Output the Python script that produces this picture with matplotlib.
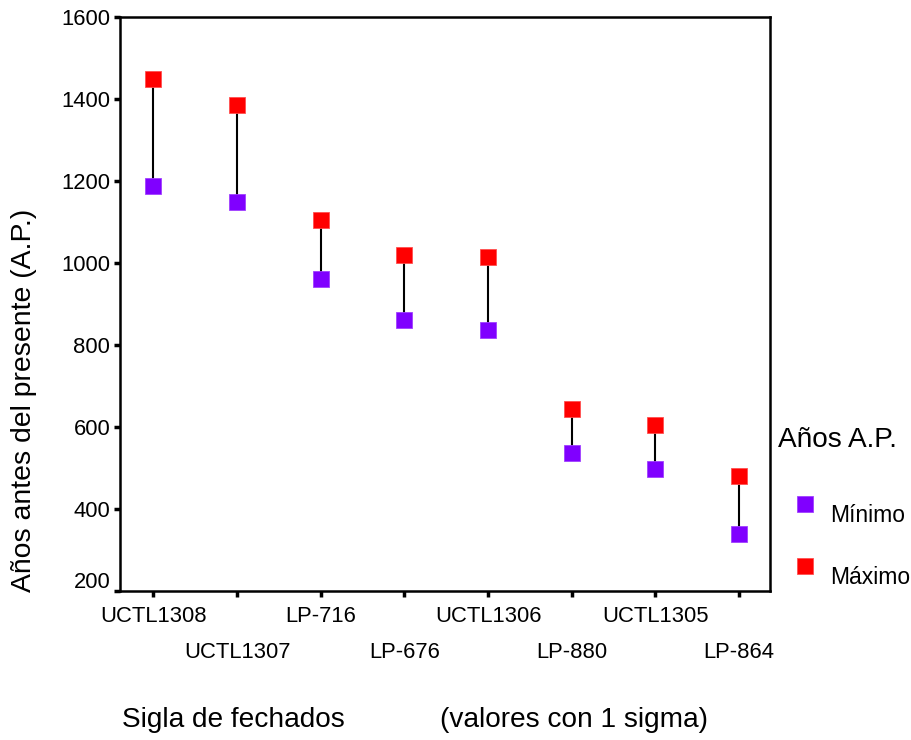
import matplotlib
matplotlib.use("Agg")
import matplotlib.pyplot as plt
import matplotlib.transforms as mtransforms
from matplotlib.lines import Line2D

plt.rcParams['font.family'] = ['Liberation Sans', 'DejaVu Sans']

categories = ["UCTL1308", "UCTL1307", "LP-716", "LP-676", "UCTL1306", "LP-880", "UCTL1305", "LP-864"]
minimo = [1188, 1149, 961, 861, 837, 537, 498, 339]
maximo = [1449, 1385, 1105, 1020, 1015, 644, 605, 480]
yticks = [200, 400, 600, 800, 1000, 1200, 1400, 1600]

purple = "#8000FF"
red = "#FF0000"

fig = plt.figure(figsize=(9.11, 7.40), dpi=100)
ax = fig.add_axes([120/911, 149/740, 650/911, 574/740])

x = list(range(len(categories)))
for xi, lo, hi in zip(x, minimo, maximo):
    ax.plot([xi, xi], [lo, hi], color="black", lw=1.5, zorder=2)
ax.plot(x, minimo, ls="none", marker="s", ms=11.5, mfc=purple, mec="#a040ff", mew=0.6, zorder=3)
ax.plot(x, maximo, ls="none", marker="s", ms=11.5, mfc=red, mec="#ff5050", mew=0.6, zorder=3)

ax.set_xlim(-0.4, 7.37)
ax.set_ylim(200, 1600)
ax.set_yticks(yticks)
ax.set_yticklabels([str(v) for v in yticks], fontsize=15.8)
# alternate rows: even categories as major ticks, odd as minor ticks with a larger pad
ax.set_xticks(x[0::2])
ax.set_xticklabels(categories[0::2], fontsize=15.8)
ax.set_xticks(x[1::2], minor=True)
ax.set_xticklabels(categories[1::2], minor=True, fontsize=15.8)
ax.tick_params(axis="both", which="major", direction="out", length=4, width=2.5, pad=3)
ax.tick_params(axis="x", which="major", pad=7)
ax.tick_params(axis="x", which="minor", direction="out", length=4, width=2.5, pad=33)
for s in ax.spines.values():
    s.set_linewidth(1.8)

# lift the lowest y tick label slightly, as in the reference
lbl = ax.get_yticklabels()[0]
lbl.set_transform(lbl.get_transform() + mtransforms.ScaledTranslation(0, 11/100, fig.dpi_scale_trans))

fig.text(24/911, 1 - 400/740, "Años antes del presente (A.P.)", rotation=90,
         ha="center", va="center", fontsize=20.4)
fig.text(122/911, 1 - 720/740, "Sigla de fechados", ha="left", va="center", fontsize=20.2)
fig.text(440/911, 1 - 720/740, "(valores con 1 sigma)", ha="left", va="center", fontsize=20.2)

# legend
fig.text(778/911, 1 - 440/740, "Años A.P.", ha="left", va="center", fontsize=20.2)
fig.add_artist(Line2D([805/911], [1 - 504/740], transform=fig.transFigure, ls="none",
                      marker="s", ms=11.5, mfc=purple, mec="#a040ff", mew=0.6))
fig.add_artist(Line2D([805/911], [1 - 566/740], transform=fig.transFigure, ls="none",
                      marker="s", ms=11.5, mfc=red, mec="#ff5050", mew=0.6))
fig.text(830/911, 1 - 516/740, "Mínimo", ha="left", va="center", fontsize=16.5)
fig.text(830/911, 1 - 578/740, "Máximo", ha="left", va="center", fontsize=16.5)

fig.savefig("out.png", dpi=100)
